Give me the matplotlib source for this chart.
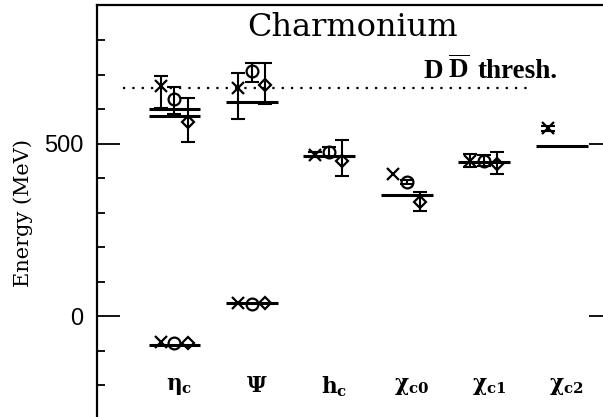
import numpy as np
import matplotlib
matplotlib.use("Agg")
import matplotlib.pyplot as plt

plt.rcParams['mathtext.fontset'] = 'dejavuserif'
plt.rcParams['mathtext.bf'] = 'Liberation Serif:bold'
plt.rcParams['mathtext.rm'] = 'Liberation Serif'

# ---- data ----
cat_pos = [1, 2, 3, 4, 5, 6]
cat_labels = [r'$\mathbf{\eta_c}$', r'$\mathbf{\Psi}$', r'$\mathbf{h_c}$',
              r'$\mathbf{\chi_{c0}}$', r'$\mathbf{\chi_{c1}}$', r'$\mathbf{\chi_{c2}}$']

# experimental levels (category, energy MeV)
exp_cat = [1, 1, 1, 2, 2, 3, 4, 5, 6]
exp_val = [-82, 599, 580, 39, 622, 463, 350, 447, 492]

# model 1 (x markers)
m1_cat = [1, 1, 2, 2, 3, 4, 5, 6]
m1_val = [-73, 668, 39, 660, 468, 413, 451, 544]
m1_lo = [0, 64, 0, 89, 8, 0, 18, 8]
m1_hi = [0, 29, 0, 44, 8, 0, 20, 8]

# model 2 (circles)
m2_cat = [1, 1, 2, 2, 3, 4, 5]
m2_val = [-77, 629, 37, 709, 476, 389, 451]
m2_lo = [0, 44, 0, 31, 14, 7, 15]
m2_hi = [0, 36, 0, 25, 14, 7, 15]

# model 3 (diamonds)
m3_cat = [1, 1, 2, 2, 3, 4, 5]
m3_val = [-76, 563, 39, 670, 451, 330, 442]
m3_lo = [0, 58, 0, 56, 46, 24, 29]
m3_hi = [0, 70, 0, 64, 59, 29, 34]

threshold = 662

# ---- figure ----
fig = plt.figure(figsize=(6.03, 4.17), dpi=100)
ax = fig.add_axes([97/603, -3/417, (612-97)/603, (420-5.5)/417])
ax.set_xlim(0, 6.65)
ax.set_ylim(-300, 900)

# experimental lines
half = 0.335
ax.hlines(exp_val, np.array(exp_cat) - half, np.array(exp_cat) + half,
          colors='black', linewidth=2.2)

def series(cats, vals, lo, hi, off, marker, ms):
    x = np.array(cats, float) + off
    v = np.array(vals, float)
    lo = np.array(lo, float); hi = np.array(hi, float)
    m = (lo > 0) | (hi > 0)
    ax.errorbar(x[m], v[m], yerr=[lo[m], hi[m]], fmt='none', ecolor='black',
                elinewidth=1.5, capsize=4.7, capthick=1.5)
    ax.plot(x, v, linestyle='none', marker=marker, ms=ms, mfc='none',
            mec='black', mew=1.6)

series(m1_cat, m1_val, m1_lo, m1_hi, -0.18, 'x', 8.5)
series(m2_cat, m2_val, m2_lo, m2_hi, 0.0, 'o', 8.5)
series(m3_cat, m3_val, m3_lo, m3_hi, 0.17, 'D', 6)

# threshold
ax.hlines(threshold, 0.34, 5.6, colors='black', linestyles=(0, (1, 3.2)), linewidth=1.6)
tkw = dict(family='Liberation Serif', fontweight='bold', fontsize=19.5,
           ha='left', va='baseline')
ax.text(4.22, 690, 'D', **tkw)
ax.text(4.53, 690, r'$\overline{\mathbf{D}}$', math_fontfamily='custom', **tkw)
ax.text(4.92, 690, 'thresh.', **tkw)

# title
ax.text(3.3, 812, 'Charmonium', family='DejaVu Serif', fontsize=23, ha='center', va='baseline')

# category labels
for p, lab in zip(cat_pos, cat_labels):
    ax.text(p + 0.06, -203, lab, fontsize=15.5, ha='center', va='center',
            math_fontfamily='dejavuserif')

# axes styling
ax.spines['bottom'].set_visible(False)
for s in ['left', 'top', 'right']:
    ax.spines[s].set_linewidth(1.6)
ax.set_xticks([])
ax.set_yticks([0, 500])
ax.set_yticks(np.arange(-300, 901, 100), minor=True)
ax.tick_params(axis='y', which='major', direction='in', length=16.5, width=1.3,
               right=True, labelsize=17, pad=10)
ax.tick_params(axis='y', which='minor', direction='in', length=6, width=1.3, right=True)
for t in ax.get_yticklabels():
    t.set_family('Liberation Sans')
ax.set_ylabel('Energy (MeV)', family='DejaVu Serif', fontsize=15, labelpad=8)

fig.savefig('out.png', dpi=100)
